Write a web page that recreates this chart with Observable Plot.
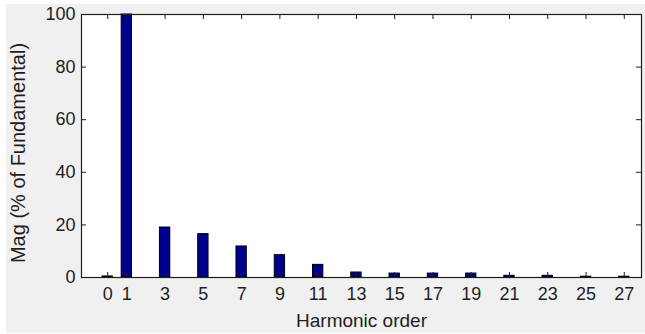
<!DOCTYPE html>
<html><head><meta charset="utf-8">
<script src="https://cdn.jsdelivr.net/npm/d3@7"></script>
<script src="https://cdn.jsdelivr.net/npm/@observablehq/plot@0.6"></script>
<style>
html,body{margin:0;padding:0;background:#fff;}
#wrap{position:relative;width:645px;height:334px;overflow:hidden;}
#bg{position:absolute;left:6px;top:4px;width:639px;height:329px;background:#f0f0f0;}
#chart{position:absolute;left:0;top:0;}
</style></head><body>
<div id="wrap"><div id="bg"></div><div id="chart"></div></div>
<script>
const harmonics = [0, 1, 3, 5, 7, 9, 11, 13, 15, 17, 19, 21, 23, 25, 27];
const magnitudes = [0.4, 100, 19.0, 16.5, 11.8, 8.5, 4.8, 1.9, 1.5, 1.5, 1.5, 0.65, 0.65, 0.3, 0.3];
const xTicks = [0, 1, 3, 5, 7, 9, 11, 13, 15, 17, 19, 21, 23, 25, 27];
const yTicks = [0, 20, 40, 60, 80, 100];
const xLabel = "Harmonic order";
const yLabel = "Mag (% of Fundamental)";

const xDomain = [-1.37, 27.9];
const barHalf = 0.27;
const ink = "#1e1e1e";
const data = harmonics.map((h, i) => ({h, v: magnitudes[i]}));

const chart = Plot.plot({
  width: 645, height: 334,
  marginLeft: 81, marginRight: 4, marginTop: 14, marginBottom: 57,
  style: {background: "transparent", fontFamily: "'Liberation Sans', Arial, sans-serif", color: ink},
  x: {domain: xDomain},
  y: {domain: [0, 100]},
  marks: [
    Plot.frame({fill: "white", stroke: null}),
    Plot.rectY(data, {x1: d => d.h - barHalf, x2: d => d.h + barHalf, y1: 0, y2: "v", fill: "#00008f", stroke: "#000", strokeWidth: 1}),
    Plot.ruleX(xTicks, {x: d => d, y1: 0, y2: 0, insetTop: -5, stroke: ink}),
    Plot.ruleX(xTicks, {x: d => d, y1: 100, y2: 100, insetBottom: -5, stroke: ink}),
    Plot.ruleY(yTicks, {y: d => d, x1: xDomain[0], x2: xDomain[0], insetRight: -5, stroke: ink}),
    Plot.ruleY(yTicks, {y: d => d, x1: xDomain[1], x2: xDomain[1], insetLeft: -5, stroke: ink}),
    Plot.frame({stroke: ink, strokeWidth: 1.2}),
    Plot.axisX(xTicks, {tickSize: 0, tickPadding: 10, fontSize: 18, tickFormat: d => d, label: null}),
    Plot.axisY(yTicks, {tickSize: 0, tickPadding: 6, fontSize: 18, label: null}),
    Plot.text([xLabel], {text: d => d, frameAnchor: "bottom", dy: 43, fontSize: 19, lineAnchor: "middle", textAnchor: "middle"}),
    Plot.text([yLabel], {text: d => d, frameAnchor: "left", dx: -63, dy: 7, rotate: -90, fontSize: 20, lineAnchor: "middle", textAnchor: "middle"})
  ]
});
document.getElementById("chart").appendChild(chart);
</script>
</body></html>
